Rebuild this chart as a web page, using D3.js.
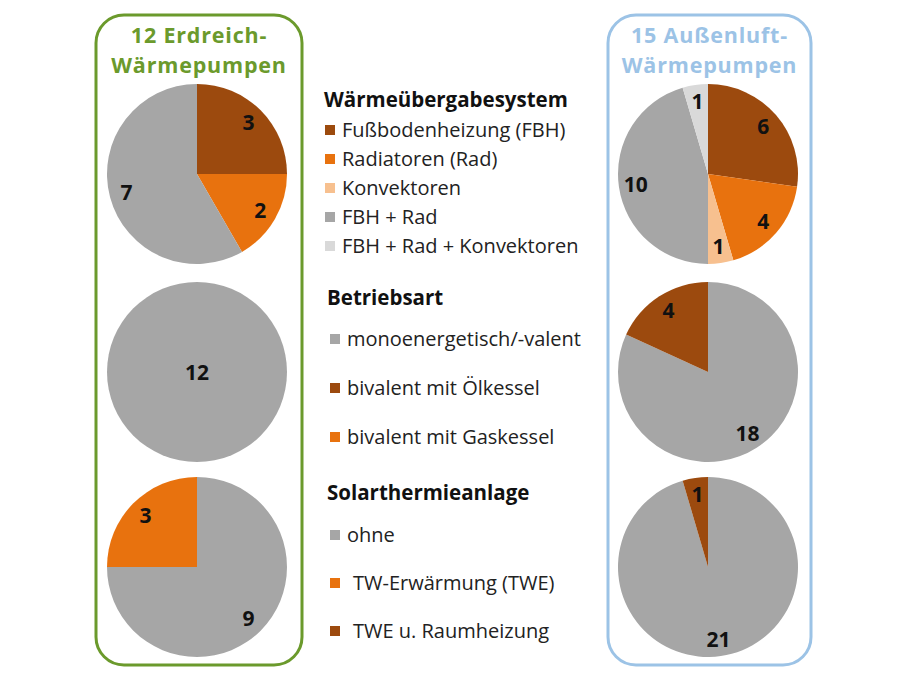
<!DOCTYPE html>
<html><head><meta charset="utf-8">
<script src="https://cdn.jsdelivr.net/npm/d3@7"></script>
<style>body{margin:0;background:#fff}svg{display:block}text{font-family:"Open Sans",sans-serif}</style>
</head><body>
<script>
// ---- data ----
const groupTitles = [["12 Erdreich-", "Wärmepumpen"], ["15 Außenluft-", "Wärmepumpen"]];
const sectionTitles = ["Wärmeübergabesystem", "Betriebsart", "Solarthermieanlage"];
const systemCats = ["Fußbodenheizung (FBH)", "Radiatoren (Rad)", "Konvektoren", "FBH + Rad", "FBH + Rad + Konvektoren"];
const systemErd = [3, 2, 0, 7, 0];
const systemLuft = [6, 4, 1, 10, 1];
const betriebCats = ["monoenergetisch/-valent", "bivalent mit Ölkessel", "bivalent mit Gaskessel"];
const betriebErd = [12, 0, 0];
const betriebLuft = [18, 4, 0];
const solarCats = ["ohne", "TW-Erwärmung (TWE)", "TWE u. Raumheizung"];
const solarErd = [9, 3, 0];
const solarLuft = [21, 0, 1];

// ---- colours ----
const brown = "#9c4a0e", orange = "#e8720e", lightOrange = "#f7c08f", gray = "#a6a6a6", lightGray = "#d9d9d9";
const systemColors = [brown, orange, lightOrange, gray, lightGray];
const betriebColors = [gray, brown, orange];
const solarColors = [gray, orange, brown];

const W = 900, H = 675;
const svg = d3.select("body").append("svg").attr("width", W).attr("height", H);

// boxes
const boxes = [
  {x: 96, y: 15, w: 206, h: 650, color: "#6b9a2c"},
  {x: 608, y: 15, w: 203, h: 650, color: "#9cc3e6"}
];
boxes.forEach((b, i) => {
  svg.append("rect").attr("x", b.x).attr("y", b.y).attr("width", b.w).attr("height", b.h)
    .attr("rx", 28).attr("ry", 28).attr("fill", "none").attr("stroke", b.color).attr("stroke-width", 3);
  const cx = b.x + b.w / 2;
  groupTitles[i].forEach((s, j) => {
    svg.append("text").attr("x", cx).attr("y", 43 + j * 30).attr("text-anchor", "middle")
      .attr("font-size", 21.5).attr("letter-spacing", 0.8).attr("font-weight", 700).attr("fill", b.color).text(s);
  });
});

// pies
const R = 90, labelR = 73;
const pieGen = d3.pie().sort(null).value(d => d.v);
const arcGen = d3.arc().innerRadius(0).outerRadius(R);
const labelArc = d3.arc().innerRadius(labelR).outerRadius(labelR);
const pieCols = [197, 708];
const pieRows = [174, 372, 567];
const pieData = [
  [systemErd, betriebErd, solarErd],
  [systemLuft, betriebLuft, solarLuft]
];
const colorSets = [systemColors, betriebColors, solarColors];

pieData.forEach((col, ci) => {
  col.forEach((vals, ri) => {
    const g = svg.append("g").attr("transform", `translate(${pieCols[ci]},${pieRows[ri]})`);
    const data = vals.map((v, k) => ({v, color: colorSets[ri][k]}));
    const arcs = pieGen(data).filter(a => a.data.v > 0);
    const total = d3.sum(vals);
    g.selectAll("path").data(arcs).join("path")
      .attr("d", arcGen).attr("fill", d => d.data.color);
    g.selectAll("text").data(arcs).join("text")
      .attr("transform", d => d.data.v === total ? "translate(0,0)" : `translate(${labelArc.centroid(d)})`)
      .attr("dy", "0.36em").attr("text-anchor", "middle")
      .attr("font-size", 21).attr("font-weight", 700).attr("fill", "#111")
      .text(d => d.data.v);
  });
});

// legend
const legend = svg.append("g");
function section(title, ty, tx0, cats, colors, rows, mx, tx) {
  legend.append("text").attr("x", tx0).attr("y", ty)
    .attr("font-size", 20.5).attr("font-weight", 700).attr("fill", "#111").text(title);
  cats.forEach((c, k) => {
    legend.append("rect").attr("x", mx).attr("y", rows[k] - 5).attr("width", 10).attr("height", 10).attr("fill", colors[k]);
    legend.append("text").attr("x", tx[k]).attr("y", rows[k]).attr("dy", "0.35em")
      .attr("font-size", 20).attr("fill", "#222").text(c);
  });
}
section(sectionTitles[0], 107, 324, systemCats, systemColors, [130, 159, 188, 217, 246], 325, [342, 342, 342, 342, 342]);
section(sectionTitles[1], 305, 327, betriebCats, betriebColors, [339, 388, 437], 330, [347, 347, 347]);
section(sectionTitles[2], 500, 327, solarCats, solarColors, [535, 583, 631], 330, [347, 353, 353]);
</script>
</body></html>
